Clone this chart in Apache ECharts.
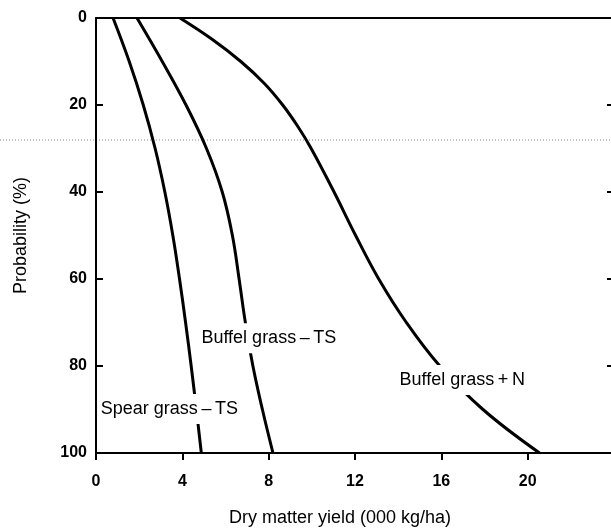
<!DOCTYPE html>
<html>
<head>
<meta charset="utf-8">
<script src="https://cdn.jsdelivr.net/npm/echarts@6/dist/echarts.min.js"></script>
<style>
  html, body { margin: 0; padding: 0; background: #fff; }
  #chart { width: 611px; height: 529px; }
</style>
</head>
<body>
<div id="chart"></div>
<script>
// curves: [yield (000 kg/ha), probability (%)]
const spearTS = [[0.79,0],[1.54,10],[2.19,20],[2.74,30],[3.19,40],[3.56,50],[3.87,60],[4.15,70],[4.41,80],[4.65,90],[4.88,100]];
const buffelTS = [[1.9,0],[3.07,10],[4.17,20],[5.12,30],[5.85,40],[6.32,50],[6.63,60],[6.92,70],[7.27,80],[7.71,90],[8.2,100]];
const buffelN = [[3.89,0],[5.41,5],[6.71,10],[7.79,15],[8.65,20],[9.36,25],[9.97,30],[11.03,40],[12.03,50],[13.1,60],[14.38,70],[15.93,80],[17.93,90],[20.55,100]];

const curveNames = ['Spear grass\u2009\u2013\u2009TS', 'Buffel grass\u2009\u2013\u2009TS', 'Buffel grass\u2009+\u2009N'];
// where each curve's label sits (data coords)
const labelPos = [[3.40,89.9],[8.01,73.6],[16.97,83.2]];

const xTicks = [0, 4, 8, 12, 16, 20];
const yTicks = [0, 20, 40, 60, 80, 100];

const ink = '#000';
const font = '"Liberation Sans", Arial, sans-serif';

const chart = echarts.init(document.getElementById('chart'));

function curve(name, data) {
    return {
        name: name, type: 'line', data: data,
        smooth: 0.4,
        symbol: 'none', z: 2,
        lineStyle: { color: ink, width: 3 }
    };
}

const axisLine = { show: true, onZero: false, lineStyle: { color: ink, width: 2 } };

const option = {
    backgroundColor: '#fff',
    animation: false,
    grid: { left: 96, top: 18, width: 518, height: 435, outerBoundsMode: 'none' },
    xAxis: [{
        type: 'value', position: 'bottom',
        min: 0, max: 24, interval: 4,
        name: 'Dry matter yield (000 kg/ha)',
        nameLocation: 'middle', nameGap: 56,
        nameTextStyle: { fontFamily: font, fontSize: 18, color: ink, padding: [0, 30, 0, 0] },
        axisLine: axisLine,
        axisTick: { show: true, inside: false, length: 7, lineStyle: { color: ink, width: 2 } },
        axisLabel: {
            margin: 21, fontFamily: font, fontSize: 16, fontWeight: 'bold', color: ink,
            formatter: v => xTicks.indexOf(v) >= 0 ? String(v) : ''
        },
        splitLine: { show: false }
    }, {
        type: 'value', position: 'top',
        min: 0, max: 24, interval: 4,
        axisLine: axisLine,
        axisTick: { show: false }, axisLabel: { show: false }, splitLine: { show: false }
    }],
    yAxis: [{
        type: 'value', inverse: true, position: 'left',
        min: 0, max: 100, interval: 20,
        name: 'Probability (%)',
        nameLocation: 'middle', nameGap: 66,
        nameTextStyle: { fontFamily: font, fontSize: 18, color: ink },
        axisLine: axisLine,
        axisTick: { show: true, inside: true, length: 7, lineStyle: { color: ink, width: 2 } },
        axisLabel: {
            margin: 9, fontFamily: font, fontSize: 16, fontWeight: 'bold', color: ink,
            formatter: v => yTicks.indexOf(v) >= 0 ? String(v) : ''
        },
        splitLine: { show: false }
    }, {
        type: 'value', inverse: true, position: 'right',
        min: 0, max: 100, interval: 20,
        axisLine: axisLine,
        axisTick: { show: true, inside: true, length: 7, lineStyle: { color: ink, width: 2 } },
        axisLabel: { show: false }, splitLine: { show: false }
    }],
    // faint dotted fold line from the scan
    graphic: [{
        type: 'line', z: 0,
        shape: { x1: 0, y1: 140, x2: 611, y2: 140 },
        style: { stroke: '#888', lineWidth: 1, lineDash: [1, 2] }
    }],
    series: [
        curve(curveNames[0], spearTS),
        curve(curveNames[1], buffelTS),
        curve(curveNames[2], buffelN),
        {
            type: 'scatter', z: 10, symbolSize: 0, silent: true,
            itemStyle: { opacity: 1 },
            data: labelPos.map((p, i) => ({ value: p, name: curveNames[i] })),
            label: {
                show: true, position: 'inside', formatter: '{b}',
                fontFamily: font, fontSize: 18, color: ink,
                backgroundColor: '#fff', padding: [6, 2]
            }
        }
    ]
};

chart.setOption(option);
</script>
</body>
</html>
